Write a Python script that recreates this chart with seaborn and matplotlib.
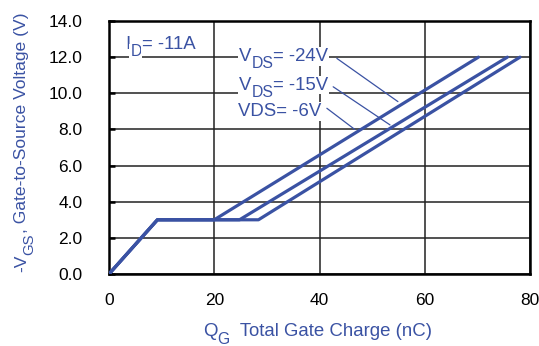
import matplotlib
matplotlib.use("Agg")
import matplotlib.pyplot as plt
from matplotlib.transforms import IdentityTransform
import seaborn as sns
import pandas as pd

# Gate charge curves, one per drain-source voltage
vds_labels = ["-24V", "-15V", "-6V"]
qg_24 = [0, 9.2, 20.0, 70.2]
vgs_24 = [0, 3.0, 3.0, 12.0]
qg_15 = [0, 9.2, 24.8, 75.7]
vgs_15 = [0, 3.0, 3.0, 12.0]
qg_6 = [0, 9.2, 28.4, 78.1]
vgs_6 = [0, 3.0, 3.0, 12.0]

x_ticks = [0, 20, 40, 60, 80]
y_ticks = [0, 2, 4, 6, 8, 10, 12, 14]

rows = []
for lab, xs, ys in zip(vds_labels, [qg_24, qg_15, qg_6], [vgs_24, vgs_15, vgs_6]):
    for i, (x, y) in enumerate(zip(xs, ys)):
        rows.append({"vds": lab, "order": i, "qg": x, "vgs": y})
df = pd.DataFrame(rows)

sns.set_theme(style="white")
plt.rcParams["font.family"] = ["Liberation Sans", "DejaVu Sans"]
blue = "#3a52a3"
FS_TICK = 12.5
FS_LAB = 13.4
W, H = 539, 346

fig = plt.figure(figsize=(W / 100, H / 100), dpi=100)
ax = fig.add_axes([109 / W, 1 - 274 / H, 421 / W, 253 / H])

sns.lineplot(data=df, x="qg", y="vgs", units="vds", estimator=None, sort=False,
             color=blue, linewidth=2.3, ax=ax, zorder=3)

ax.set_xlim(0, 80)
ax.set_ylim(0, 14)
ax.set_xticks(x_ticks)
ax.set_yticks(y_ticks)
ax.set_xticklabels([str(v) for v in x_ticks], fontsize=FS_TICK, color="black")
ax.set_yticklabels([f"{v:.1f}" for v in y_ticks], fontsize=FS_TICK, color="black")
ax.tick_params(axis="x", length=0, pad=14)
ax.tick_params(axis="y", direction="in", length=4, width=1.8, color="black", pad=19, left=True)
ax.grid(True, color="#222222", linewidth=1.1)
for s in ax.spines.values():
    s.set_color("black")
    s.set_linewidth(1.8)
ax.set_xlabel("")
ax.set_ylabel("")

renderer = fig.canvas.get_renderer()
box = dict(facecolor="white", edgecolor="none", pad=0.6)


def rich(parts, x, y, size=FS_LAB, rotation=0, bbox=None):
    """Draw text pieces one after another; pieces flagged True are subscripts.
    x, y are pixel positions (origin top-left) of the start of the baseline."""
    px = size * 100 / 72
    cur = x if rotation == 0 else H - y
    base = H - y if rotation == 0 else x
    for s, sub in parts:
        fs = size * 0.85 if sub else size
        off = 0.4 * px if sub else 0
        if rotation == 0:
            t = fig.text(cur, base - off, s, transform=IdentityTransform(), fontsize=fs,
                         color=blue, ha="left", va="baseline", bbox=bbox, zorder=5)
            cur = t.get_window_extent(renderer).x1
        else:
            t = fig.text(base + off, cur, s, transform=IdentityTransform(), fontsize=fs,
                         color=blue, ha="left", va="baseline", rotation=90,
                         rotation_mode="anchor", bbox=bbox, zorder=5)
            cur = t.get_window_extent(renderer).y1


# Axis titles
rich([("Q", False), ("G", True), ("  Total Gate Charge (nC)", False)], 203, 336.5)
rich([("-V", False), ("GS", True), (", Gate-to-Source Voltage (V)", False)], 26, 272,
     size=12.6, rotation=90)

# Curve annotations
rich([("I", False), ("D", True), ("= -11A", False)], 125, 49, bbox=box)
rich([("V", False), ("DS", True), ("= -24V", False)], 239, 61, bbox=box)
rich([("V", False), ("DS", True), ("= -15V", False)], 239, 89.5, bbox=box)
rich([("VDS= -6V", False)], 238, 116, bbox=box)

leaders = [((43.3, 11.93), (54.9, 9.54)), ((42.6, 10.36), (53.4, 8.25)), ((41.4, 9.17), (46.7, 8.0))]
for p0, p1 in leaders:
    ax.plot([p0[0], p1[0]], [p0[1], p1[1]], color=blue, linewidth=0.9, zorder=4)

fig.savefig("out.png", dpi=100)
